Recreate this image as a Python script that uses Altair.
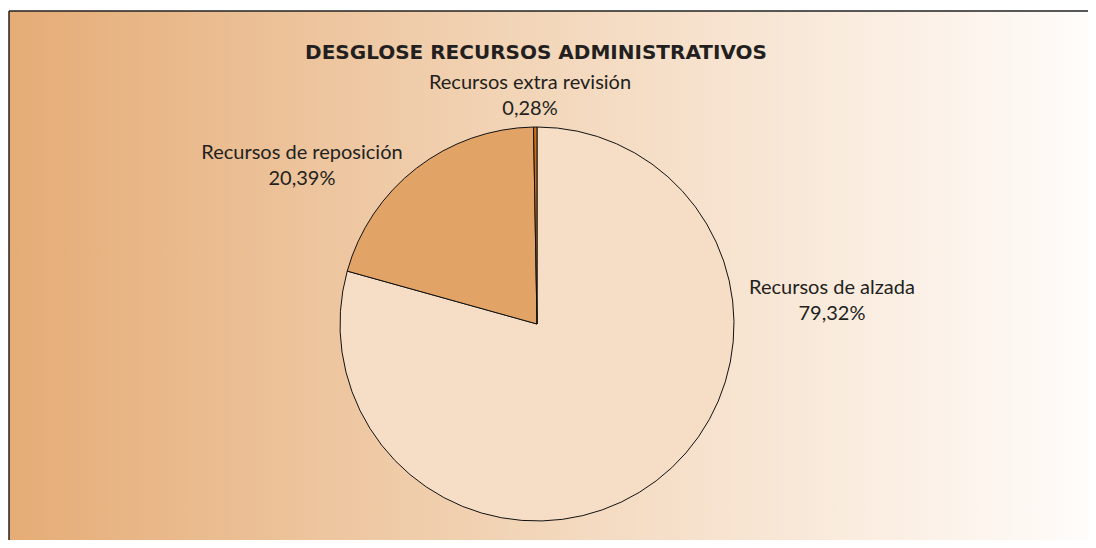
import altair as alt
import pandas as pd

categorias = ["Recursos de alzada", "Recursos de reposición", "Recursos extra revisión"]
porcentajes = [79.32, 20.39, 0.28]
orden = [1, 2, 3]
colores = ["#F6DEC6", "#E2A367", "#CF6F1A"]

df = pd.DataFrame({"categoria": categorias, "pct": porcentajes, "orden": orden})

FONT = "Lato"
TXT = "#231F20"

one = alt.Data(values=[{"a": 1}])

bg = alt.Chart(one).mark_rect(
    fill=alt.LinearGradient(
        gradient="linear",
        stops=[
            alt.GradientStop(color="#E5AC76", offset=0),
            alt.GradientStop(color="#F3D7BB", offset=0.5),
            alt.GradientStop(color="#FFFCFA", offset=1),
        ],
        x1=0, x2=1, y1=0, y2=0,
    ),
).encode(x=alt.value(1), x2=alt.value(1080), y=alt.value(3), y2=alt.value(532))

top_border = alt.Chart(one).mark_rule(color="#222222", strokeWidth=1.5).encode(
    x=alt.value(1), x2=alt.value(1080), y=alt.value(3)
)
left_border = alt.Chart(one).mark_rule(color="#222222", strokeWidth=1.5).encode(
    x=alt.value(1), y=alt.value(3), y2=alt.value(532)
)

pie = alt.Chart(df).mark_arc(radius=197, stroke="#111111", strokeWidth=1).encode(
    theta=alt.Theta("pct:Q", stack=True),
    order=alt.Order("orden:Q"),
    color=alt.Color("categoria:N", scale=alt.Scale(domain=categorias, range=colores), legend=None),
    x=alt.value(529),
    y=alt.value(316),
)

base_lbl = alt.Chart(df).transform_calculate(
    lbl="datum.categoria + '\\n' + replace(format(datum.pct, '.2f'), '.', ',') + '%'"
)

def label(cat, x, y):
    return base_lbl.transform_filter(alt.datum.categoria == cat).mark_text(
        font=FONT, fontSize=20, color=TXT, align="center", baseline="middle",
        lineBreak="\n", lineHeight=26,
    ).encode(text="lbl:N", x=alt.value(x), y=alt.value(y))

labels = [
    label(categorias[0], 824, 280),
    label(categorias[1], 294, 145),
    label(categorias[2], 522, 75),
]

title = alt.Chart(alt.Data(values=[{"t": "DESGLOSE RECURSOS ADMINISTRATIVOS"}])).mark_text(
    font="DejaVu Sans", fontSize=20, fontWeight="bold", color=TXT, align="center", baseline="middle"
).encode(text="t:N", x=alt.value(528), y=alt.value(45))

chart = alt.layer(bg, top_border, left_border, pie, *labels, title).properties(
    width=1080, height=532, autosize=alt.AutoSizeParams(type="none"), padding=0
).configure_view(stroke=None)

chart.save("out.html", embed_options={"renderer": "svg", "actions": False})
